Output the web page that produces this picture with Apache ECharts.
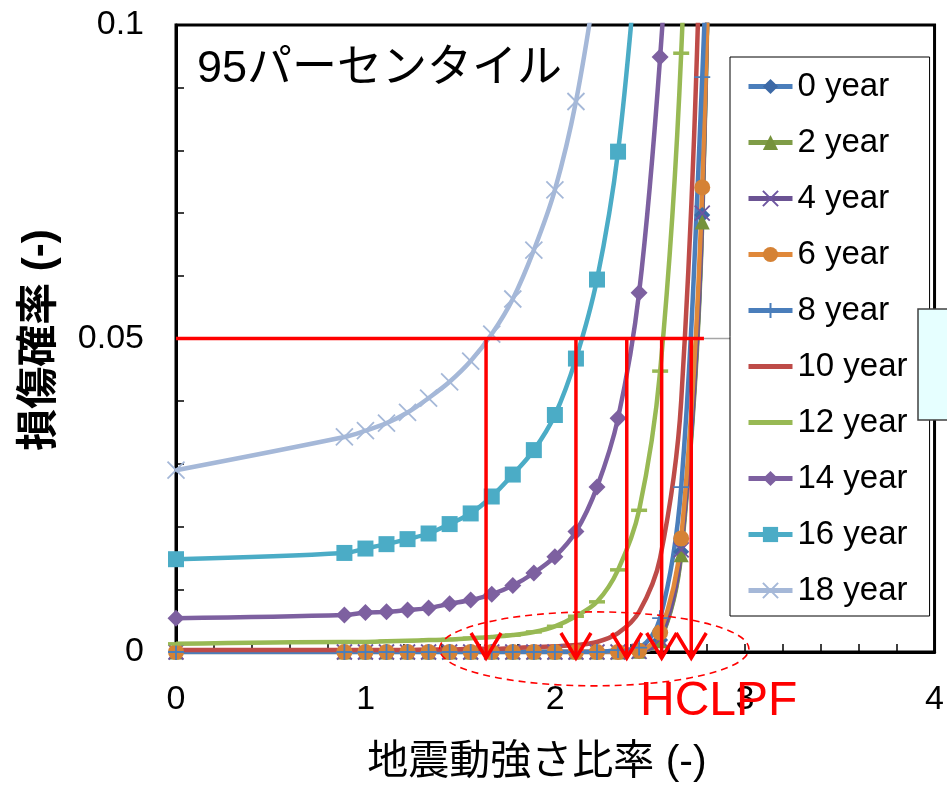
<!DOCTYPE html>
<html><head><meta charset="utf-8">
<script src="https://cdn.jsdelivr.net/npm/echarts@6/dist/echarts.min.js"></script>
<style>html,body{margin:0;padding:0;background:#fff}#c{width:947px;height:786px}</style>
</head><body><div id="c"></div>
<script>
// ---- data ----
const xValues = [0, 0.888, 0.999, 1.11, 1.221, 1.332, 1.443, 1.554, 1.665, 1.776, 1.887, 1.998, 2.109, 2.22, 2.331, 2.442, 2.553, 2.664, 2.775, 2.886];
const y00 = [0,0,0,0,0,0,0,0,0,0,0,0,0,0,0,0.0001,0.0019,0.0160,0.0697,0.25];
const y02 = [0,0,0,0,0,0,0,0,0,0,0,0,0,0,0,0.0001,0.0018,0.0155,0.0686,0.25];
const y04 = [0,0,0,0,0,0,0,0,0,0,0,0,0,0,0,0.0001,0.0020,0.0163,0.0700,0.25];
const y06 = [0,0,0,0,0,0,0,0,0,0,0,0,0,0,0,0.0002,0.0031,0.0181,0.0741,0.22];
const y08 = [0,0,0,0,0,0,0,0,0,0,0,0,0,0,0.0003,0.0007,0.0054,0.0263,0.0917,0.18];
const y10 = [0.0003,0.0003,0.0003,0.0003,0.0003,0.0004,0.0004,0.0005,0.0005,0.0006,0.0008,0.0009,0.0011,0.0016,0.0030,0.0064,0.0150,0.040,0.125,0.3];
const y12 = [0.0013,0.0016,0.0016,0.0017,0.0018,0.0019,0.0020,0.0022,0.0024,0.0027,0.0032,0.0041,0.0057,0.0080,0.0131,0.0226,0.0448,0.0955,0.2];
const y14 = [0.0054,0.0059,0.0063,0.0064,0.0067,0.0070,0.0077,0.0083,0.0092,0.0106,0.0126,0.0152,0.0192,0.0263,0.0373,0.0573,0.0949,0.15];
const y16 = [0.0148,0.0158,0.0165,0.0172,0.0180,0.0189,0.0204,0.0221,0.0248,0.0283,0.0322,0.0378,0.0468,0.0594,0.0798,0.115];
const y18 = [0.0290,0.0343,0.0353,0.0365,0.0382,0.0405,0.0431,0.0464,0.0507,0.0563,0.0641,0.0737,0.0878,0.108];
const seriesNames = ['0 year','2 year','4 year','6 year','8 year','10 year','12 year','14 year','16 year','18 year'];
const threshold = 0.05;
const hclpf = [1.635, 2.109, 2.377, 2.561, 2.717];
const xTickLabels = ['0','1','2','3','4'];
const yTickLabels = ['0','0.05','0.1'];

// ---- chart ----
const FONT = '"Liberation Sans", "Noto Sans CJK JP", sans-serif';
const pair = ys => ys.map((v, i) => [xValues[i], v]);
const X_PATH = 'path://M0,0L10,10M10,0L0,10';
const PLUS_PATH = 'path://M5,0L5,10M0,5L10,5';

const styles = [
  {line:'#4A7EBB', mark:'#3C69A6', symbol:'diamond', size:16},
  {line:'#7F9C47', mark:'#76923C', symbol:'triangle', size:15},
  {line:'#6B5393', mark:'#6E56A0', symbol:X_PATH, size:15, stroke:true},
  {line:'#E0883A', mark:'#D58235', symbol:'circle', size:16},
  {line:'#4A7EBB', mark:'#4A7EBB', symbol:PLUS_PATH, size:16, stroke:true},
  {line:'#BE4B48', mark:'#BE4B48', symbol:'none', size:10, noLegendMark:true},
  {line:'#98B954', mark:'#98B954', symbol:'rect', size:[16,3.5], noLegendMark:true},
  {line:'#7D60A0', mark:'#7D60A0', symbol:'diamond', size:17},
  {line:'#4BACC6', mark:'#4BACC6', symbol:'rect', size:16},
  {line:'#A5B8D8', mark:'#A5B8D8', symbol:X_PATH, size:17, stroke:true}
];
const allY = [y00,y02,y04,y06,y08,y10,y12,y14,y16,y18];

const lineSeries = seriesNames.map((name, i) => {
  const s = styles[i];
  return {
    name, type:'line', data: pair(allY[i]), smooth: 0.35,
    symbol: s.symbol, symbolSize: s.size, showSymbol: s.symbol !== 'none',
    lineStyle: {color: s.line, width: 4.5},
    itemStyle: s.stroke ? {color: s.mark, borderColor: s.mark, borderWidth: 1.8} : {color: s.mark, borderWidth: 0},
    emphasis: {disabled: true}, z: 2
  };
});

const isNear = (v, arr) => arr.some(t => Math.abs(v - parseFloat(t)) < 1e-6);
const pick = (v, arr) => isNear(v, arr) ? arr.find(t => Math.abs(v - parseFloat(t)) < 1e-6) : '';

const option = {
  animation: false,
  textStyle: {fontFamily: FONT},
  grid: {left: 176, top: 25, right: 11, bottom: 134, show: true, borderColor: '#000', borderWidth: 3, backgroundColor: 'transparent'},
  xAxis: {
    type: 'value', min: 0, max: 4, interval: 0.2,
    axisLine: {show: true, lineStyle: {color: '#000', width: 3}},
    axisTick: {show: true, inside: true, length: 8, lineStyle: {color: '#000', width: 1.5}},
    splitLine: {show: false},
    axisLabel: {fontSize: 34, color: '#000', margin: 31, fontFamily: FONT, formatter: v => pick(v, xTickLabels)}
  },
  yAxis: {
    type: 'value', min: 0, max: 0.1, interval: 0.01,
    axisLine: {show: true, lineStyle: {color: '#000', width: 3}},
    axisTick: {show: true, inside: true, length: 8, lineStyle: {color: '#000', width: 1.5}},
    splitLine: {show: false},
    axisLabel: {fontSize: 34, color: '#000', margin: 32, fontFamily: FONT, formatter: v => pick(v, yTickLabels)}
  },
  legend: {
    orient: 'vertical', left: 730, top: 57,
    itemWidth: 44, itemHeight: 19, itemGap: 23,
    padding: [13, 22, 9, 16],
    backgroundColor: '#fff', borderColor: '#000', borderWidth: 1, borderRadius: 0,
    textStyle: {fontSize: 33, color: '#000', fontFamily: FONT},
    lineStyle: {width: 5},
    selectedMode: false, z: 10,
    data: seriesNames.map((n, i) => styles[i].noLegendMark ? {name: n, itemStyle: {opacity: 0}} : {name: n})
  },
  series: [
    ...lineSeries,
    { // threshold line
      type: 'line', name: 'threshold', data: [[0, threshold], [2.784, threshold]],
      symbol: 'none', lineStyle: {color: '#FF0000', width: 3.5}, z: 3, emphasis: {disabled: true}
    },
    { // gray connector
      type: 'line', name: 'connector', data: [[2.784, threshold], [3.905, threshold]],
      symbol: 'none', lineStyle: {color: '#A6A6A6', width: 1.5}, z: 1, emphasis: {disabled: true}
    },
    { // HCLPF arrows
      type: 'custom', name: 'hclpf', clip: false, z: 4,
      data: hclpf.map(v => [v]),
      renderItem: (params, api) => {
        const x = api.value(0);
        const top = api.coord([x, threshold]);
        const bot = api.coord([x, 0]);
        const tipY = bot[1] + 6;
        return {type: 'group', children: [
          {type: 'line', shape: {x1: top[0], y1: top[1], x2: top[0], y2: tipY}, style: {stroke: '#FF0000', lineWidth: 3.5}},
          {type: 'polyline', shape: {points: [[top[0]-15, tipY-25], [top[0], tipY], [top[0]+15, tipY-25]]}, style: {stroke: '#FF0000', lineWidth: 3.5, fill: null}}
        ]};
      }
    },
    { // dashed ellipse around HCLPF points
      type: 'custom', name: 'ellipse', clip: false, z: 4,
      data: [[2.205, 0.0005]],
      renderItem: (params, api) => {
        const c = api.coord([api.value(0), api.value(1)]);
        const sz = api.size([0.816, 0.0059]);
        return {type: 'ellipse', shape: {cx: c[0], cy: c[1], rx: sz[0], ry: sz[1]},
          style: {stroke: '#FF0000', lineWidth: 1.6, lineDash: [7, 5], fill: null}};
      }
    }
  ],
  graphic: [
    {type: 'text', left: 197, top: 47, z: 20, style: {text: '95パーセンタイル', fontSize: 45, fill: '#000', fontFamily: FONT}},
    {type: 'text', x: 640, y: 702, z: 20, style: {text: 'HCLPF', fontSize: 48, fill: '#FF0000', fontFamily: FONT, verticalAlign: 'middle', align: 'left'}},
    {type: 'text', x: 537, y: 763, z: 20, style: {text: '地震動強さ比率 (-)', fontSize: 41, fill: '#000', fontFamily: FONT, align: 'center', verticalAlign: 'middle'}},
    {type: 'text', x: 40, y: 340, rotation: Math.PI / 2, z: 20, style: {text: '損傷確率 (-)', fontSize: 42, fontWeight: 'bold', fill: '#000', fontFamily: FONT, align: 'center', verticalAlign: 'middle'}},
    {type: 'rect', shape: {x: 918, y: 309, width: 40, height: 111}, z: 30, style: {fill: '#E6FFFF', stroke: '#404040', lineWidth: 1.5}}
  ]
};
const chart = echarts.init(document.getElementById('c'));
chart.setOption(option);
</script></body></html>
